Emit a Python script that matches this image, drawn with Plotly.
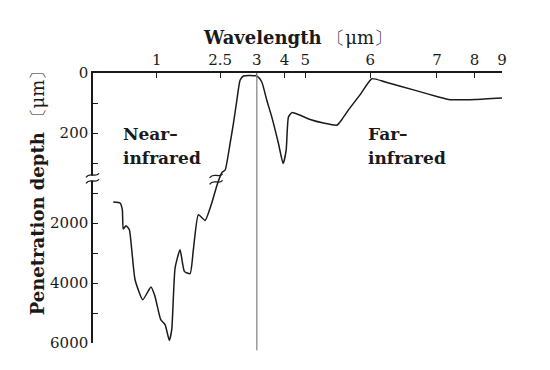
import numpy as np
import plotly.graph_objects as go

# ---------------- data ----------------
wavelength_um = [0.727, 0.770, 0.784, 0.790, 0.807, 0.828, 0.843, 0.864, 0.912, 0.964,
                 0.989, 1.095, 1.197, 1.299, 1.355, 1.434, 1.552, 1.654, 1.789, 1.867,
                 1.986, 2.145, 2.303, 2.43, 2.527, 2.568, 2.636, 2.681, 2.728, 2.772,
                 2.817, 2.909, 3.022, 3.181, 3.362, 3.543, 3.783, 3.953, 4.082, 4.193,
                 4.357, 4.758, 5.077, 5.282, 5.488, 5.565, 5.666, 5.846, 6.025, 6.225,
                 6.675, 7.043, 7.309, 8.026, 9.0]
depth_um = [1300, 1333, 1557, 2200, 2090, 2223, 2890, 3890, 4557, 4133,
            4447, 5223, 5390, 5913, 5557, 3500, 2890, 3613, 3690, 2890,
            1723, 1913, 1333, 723, 331, 324, 235, 169, 91, 24,
            10, 8, 11, 30, 91, 147, 235, 302, 258, 147,
            132, 141, 155, 167, 174, 155, 123, 72, 19, 30,
            58, 80, 88, 88, 83]

x_tick_values = [1, 2.5, 3, 4, 5, 6, 7, 8, 9]
x_tick_labels = ["1", "2.5", "3", "4", "5", "6", "7", "8", "9"]
y_tick_values = [0, 100, 200, 300, 1000, 2000, 3000, 4000, 5000, 6000]
y_tick_labels = ["0", "", "200", "", "", "2000", "", "4000", "", "6000"]
marker_wavelength = 3

# ---------------- axis scales of the original figure ----------------
# non-uniform wavelength scale (piecewise linear between graduation marks)
SCALE_WL = [0.6, 1, 2.5, 3, 4, 5, 6, 7, 8, 9]
SCALE_POS = [0, 63.7, 127, 163.7, 191.3, 212, 277, 343.7, 381.3, 408.7]
X_LEN = SCALE_POS[-1]
# broken depth scale: 0-350 (upper, fine) and 500-6000 (lower, coarse)
Y_BOTTOM = 9.0


def xmap(w):
    return np.interp(np.asarray(w, float), SCALE_WL, SCALE_POS)


def ymap(d):
    d = np.asarray(d, float)
    return np.where(d <= 400, d / 100.0, 4.0 + (d - 1000.0) / 1000.0)


W, H = 550, 370
BODY = 8                      # default page margin around the plot div
LEFT_ABS, TOP_ABS = 93, 72.7  # plot-area corner on the page
PLOT_H = 270.0
ML, MT = LEFT_ABS - BODY, TOP_ABS - BODY
MB = H - MT - PLOT_H
MR = W - ML - X_LEN

FONT = "DejaVu Serif"
INK = "#1a1a1a"

fig = go.Figure()
fig.add_trace(go.Scatter(
    x=xmap(wavelength_um), y=ymap(depth_um), mode="lines",
    line=dict(color=INK, width=1.5, shape="spline", smoothing=0.5),
    hoverinfo="skip", showlegend=False))


def px_x(p):  # page pixel -> paper x
    return (p - LEFT_ABS) / X_LEN


def px_y(p):  # page pixel -> paper y
    return 1 - (p - TOP_ABS) / PLOT_H


shapes = []
# vertical reference line at 3 um
shapes.append(dict(type="line", xref="x", yref="paper",
                   x0=float(xmap(marker_wavelength)), x1=float(xmap(marker_wavelength)),
                   y0=px_y(350), y1=1, line=dict(color="#8a8a8a", width=1.3), layer="above"))

# axis break on the left axis: white gap + two tilde marks
shapes.append(dict(type="rect", xref="paper", yref="paper",
                   x0=px_x(90), x1=px_x(96), y0=px_y(180.5), y1=px_y(175.5),
                   line=dict(width=0), fillcolor="white", layer="above"))


def tilde_paper(cx, cy):
    pts = [(cx - 7, cy + 2), (cx - 3, cy - 4), (cx + 2, cy + 3), (cx + 6, cy - 2)]
    pp = [(px_x(a), px_y(b)) for a, b in pts]
    return "M {},{} C {},{} {},{} {},{}".format(pp[0][0], pp[0][1], pp[1][0], pp[1][1],
                                               pp[2][0], pp[2][1], pp[3][0], pp[3][1])


for cy in (175, 181):
    shapes.append(dict(type="path", xref="paper", yref="paper", path=tilde_paper(93, cy),
                       line=dict(color=INK, width=1.3), layer="above"))
# break marks across the curve
for cy in (175.5, 182):
    shapes.append(dict(type="path", xref="paper", yref="paper", path=tilde_paper(216.5, cy),
                       line=dict(color=INK, width=1.3), layer="above"))

annotations = [
    dict(text="<b>Wavelength</b> 〔μm〕", xref="paper", yref="paper",
         x=px_x(297), y=px_y(37), xanchor="center", yanchor="middle", showarrow=False,
         font=dict(family=FONT, size=18, color=INK)),
    dict(text="<b>Penetration depth</b> 〔μm〕", xref="paper", yref="paper",
         x=px_x(37), y=px_y(188), xanchor="center", yanchor="middle", showarrow=False,
         textangle=-90, font=dict(family=FONT, size=18, color=INK)),
]
for txt, x0, y0 in [("Near–", 121, 134), ("infrared", 121, 158),
                    ("Far–", 366, 134), ("infrared", 366, 158)]:
    annotations.append(dict(text="<b>" + txt + "</b>", xref="paper", yref="paper",
                            x=px_x(x0), y=px_y(y0), xanchor="left", yanchor="middle",
                            showarrow=False, font=dict(family=FONT, size=17, color=INK)))

fig.update_layout(
    width=W, height=H,
    margin=dict(l=ML, r=MR, t=MT, b=MB, pad=0),
    paper_bgcolor="white", plot_bgcolor="white",
    shapes=shapes, annotations=annotations,
    xaxis=dict(range=[0, X_LEN], side="top", showgrid=False, zeroline=False,
               showline=True, linecolor=INK, linewidth=1.5,
               ticks="inside", ticklen=5, tickcolor=INK, tickwidth=1.3,
               tickmode="array", tickvals=list(xmap(x_tick_values)), ticktext=x_tick_labels,
               tickfont=dict(family=FONT, size=15, color=INK), fixedrange=True),
    yaxis=dict(range=[Y_BOTTOM, 0], showgrid=False, zeroline=False,
               showline=True, linecolor=INK, linewidth=1.5,
               ticks="inside", ticklen=5, tickcolor=INK, tickwidth=1.3,
               tickmode="array", tickvals=list(ymap(y_tick_values)), ticktext=y_tick_labels,
               tickfont=dict(family=FONT, size=15, color=INK), fixedrange=True),
)

fig.write_html("out.html")
